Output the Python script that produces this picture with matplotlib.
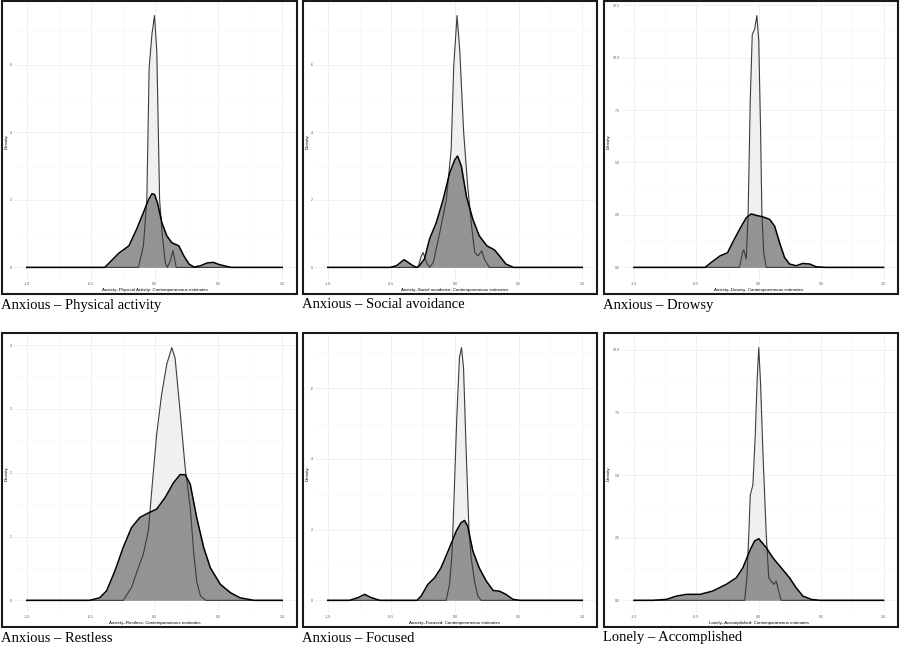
"""
density panels - six contemporaneous-estimate density plots, ggplot look.
"""
import matplotlib.pyplot as plt
from matplotlib.patches import Rectangle

# ---- data (x = estimate, y = density) ----
captions = ['Anxious \u2013 Physical activity', 'Anxious \u2013 Social avoidance',
            'Anxious \u2013 Drowsy', 'Anxious \u2013 Restless',
            'Anxious \u2013 Focused', 'Lonely \u2013 Accomplished']
xtitles = ['Anxiety\u2013Physical Activity: Contemporaneous estimates',
           'Anxiety\u2013Social avoidance: Contemporaneous estimates',
           'Anxiety\u2013Drowsy: Contemporaneous estimates',
           'Anxiety\u2013Restless: Contemporaneous estimates',
           'Anxiety\u2013Focused: Contemporaneous estimates',
           'Lonely\u2013Accomplished: Contemporaneous estimates']

# Anxious - Physical activity
phys_light_x = [-1.0, -0.126, -0.087, -0.06, -0.042, -0.02, 0.0, 0.018, 0.04, 0.06,
                0.084, 0.10, 0.125, 0.144, 0.16, 0.17, 1.0]
phys_light_y = [0, 0, 0.64, 2.0, 5.9, 6.9, 7.45, 6.4, 2.0, 1.0,
                0.15, 0, 0.2, 0.5, 0.2, 0, 0]
phys_dark_x = [-1.0, -0.39, -0.35, -0.28, -0.2, -0.14, -0.087, -0.047, -0.02, 0.0, 0.024,
               0.058, 0.097, 0.136, 0.19, 0.23, 0.27, 0.31, 0.36, 0.41, 0.46, 0.51, 0.6, 1.0]
phys_dark_y = [0, 0, 0.15, 0.42, 0.64, 1.13, 1.62, 2.0, 2.18, 2.16, 1.9,
               1.32, 0.93, 0.73, 0.64, 0.34, 0.1, 0.01, 0.05, 0.13, 0.15, 0.08, 0, 0]

# Anxious - Social avoidance
soc_light_x = [-1.0, -0.29, -0.265, -0.25, -0.225, -0.2, -0.17, -0.12, -0.068, -0.03,
               -0.01, 0.016, 0.037, 0.068, 0.1, 0.13, 0.155, 0.18, 0.21, 0.23, 0.27, 1.0]
soc_light_y = [0, 0, 0.34, 0.44, 0.15, 0, 0.15, 1.03, 2.0, 3.5,
               5.96, 7.46, 6.45, 4.0, 2.4, 1.23, 0.44, 0.34, 0.49, 0.25, 0, 0]
soc_dark_x = [-1.0, -0.51, -0.46, -0.4, -0.33, -0.3, -0.28, -0.24, -0.2, -0.147, -0.094,
              -0.042, 0.0, 0.02, 0.05, 0.09, 0.14, 0.19, 0.25, 0.31, 0.35, 0.4, 0.46, 1.0]
soc_dark_y = [0, 0, 0.05, 0.23, 0.05, 0.0, 0.05, 0.25, 0.84, 1.33, 2.0,
              2.8, 3.2, 3.3, 3.0, 2.1, 1.43, 0.94, 0.64, 0.52, 0.34, 0.1, 0, 0]

# Anxious - Drowsy
drow_light_x = [-1.0, -0.155, -0.13, -0.12, -0.1, -0.085, -0.068, -0.052, -0.033, -0.015,
                0.0, 0.015, 0.025, 0.04, 0.06, 1.0]
drow_light_y = [0, 0, 0.7, 0.84, 0.4, 2.6, 8.0, 11.1, 11.35, 12.0,
                10.8, 6.4, 2.6, 0.7, 0, 0]
drow_dark_x = [-1.0, -0.43, -0.38, -0.31, -0.25, -0.21, -0.155, -0.1, -0.06, -0.02, 0.033,
               0.087, 0.127, 0.167, 0.207, 0.247, 0.3, 0.353, 0.41, 0.46, 0.54, 1.0]
drow_dark_y = [0, 0, 0.24, 0.55, 0.7, 1.18, 1.8, 2.37, 2.55, 2.48, 2.41,
               2.29, 1.97, 1.18, 0.47, 0.16, 0.08, 0.19, 0.16, 0.03, 0, 0]

# Anxious - Restless
rest_light_x = [-1.0, -0.245, -0.18, -0.127, -0.088, -0.048, -0.022, 0.017, 0.056, 0.096,
                0.135, 0.161, 0.2, 0.24, 0.28, 0.306, 0.33, 0.36, 0.4, 1.0]
rest_light_y = [0, 0, 0.2, 0.51, 0.72, 1.09, 1.71, 2.6, 3.23, 3.7,
                3.96, 3.8, 2.97, 2.08, 1.45, 0.77, 0.3, 0.07, 0, 0]
rest_dark_x = [-1.0, -0.51, -0.43, -0.375, -0.31, -0.245, -0.18, -0.114, -0.048, 0.017,
               0.083, 0.148, 0.2, 0.24, 0.28, 0.33, 0.385, 0.437, 0.516, 0.595, 0.67,
               0.78, 1.0]
rest_dark_y = [0, 0, 0.04, 0.15, 0.46, 0.83, 1.14, 1.3, 1.37, 1.43,
               1.61, 1.84, 1.97, 1.97, 1.82, 1.3, 0.83, 0.51, 0.25, 0.12, 0.04,
               0, 0]

# Anxious - Focused
foc_light_x = [-1.0, -0.07, -0.043, -0.022, -0.004, 0.014, 0.035, 0.051, 0.067, 0.088,
               0.11, 0.127, 0.153, 0.18, 0.205, 1.0]
foc_light_y = [0, 0, 0.45, 1.4, 3.28, 5.17, 6.87, 7.15, 6.58, 4.2,
               1.96, 1.2, 0.55, 0.12, 0, 0]
foc_dark_x = [-1.0, -0.83, -0.76, -0.71, -0.66, -0.59, -0.3, -0.266, -0.214, -0.16, -0.11,
              -0.043, 0.01, 0.048, 0.075, 0.1, 0.14, 0.19, 0.245, 0.3, 0.35, 0.4,
              0.455, 0.51, 1.0]
foc_dark_y = [0, 0, 0.08, 0.17, 0.08, 0, 0, 0.12, 0.45, 0.64, 0.92,
              1.49, 1.96, 2.2, 2.26, 2.1, 1.4, 0.92, 0.55, 0.28, 0.26, 0.17,
              0.03, 0, 0]

# Lonely - Accomplished
lone_light_x = [-1.0, -0.113, -0.095, -0.08, -0.068, -0.047, -0.028, -0.012, 0.0, 0.015,
                0.033, 0.06, 0.08, 0.1, 0.12, 0.14, 0.16, 0.18, 1.0]
lone_light_y = [0, 0, 0.9, 2.6, 4.2, 4.6, 6.6, 8.9, 10.08, 8.6,
                5.96, 2.63, 0.9, 0.77, 0.64, 0.77, 0.37, 0, 0]
lone_dark_x = [-1.0, -0.85, -0.74, -0.66, -0.58, -0.47, -0.37, -0.26, -0.18, -0.127,
               -0.073, -0.033, 0.0, 0.06, 0.113, 0.18, 0.247, 0.3, 0.354, 0.42, 0.49, 1.0]
lone_dark_y = [0, 0, 0.04, 0.17, 0.24, 0.24, 0.37, 0.64, 0.9, 1.3,
               1.97, 2.37, 2.46, 2.1, 1.7, 1.3, 0.9, 0.5, 0.17, 0.04, 0, 0]

light_xs = [phys_light_x, soc_light_x, drow_light_x, rest_light_x, foc_light_x, lone_light_x]
light_ys = [phys_light_y, soc_light_y, drow_light_y, rest_light_y, foc_light_y, lone_light_y]
dark_xs = [phys_dark_x, soc_dark_x, drow_dark_x, rest_dark_x, foc_dark_x, lone_dark_x]
dark_ys = [phys_dark_y, soc_dark_y, drow_dark_y, rest_dark_y, foc_dark_y, lone_dark_y]

# y breaks per panel: (major step, label format)
y_steps = [(2, '{:.0f}'), (2, '{:.0f}'), (2.5, '{:.1f}'),
           (1, '{:.0f}'), (2, '{:.0f}'), (2.5, '{:.1f}')]

W, H = 900, 647
fig = plt.figure(figsize=(W / 100, H / 100), dpi=100)
fig.patch.set_facecolor('white')


def fbox(left, top, right, bottom):
    """ pixel box (top-left origin) -> figure fraction [l, b, w, h] """
    return [left / W, 1 - bottom / H, (right - left) / W, (bottom - top) / H]


box_cols = [(2, 297), (303, 597), (604, 898)]
box_rows = [(1, 294), (333, 627)]
tick_c = '#5a5a5a'

for i in range(6):
    r, c = divmod(i, 3)
    bl, br = box_cols[c]
    bt, bb = box_rows[r]

    # outer frame
    fig.patches.append(Rectangle((bl / W, 1 - bb / H), (br - bl) / W, (bb - bt) / H,
                                 transform=fig.transFigure, fill=False,
                                 edgecolor='#1a1a1a', linewidth=1.5, zorder=10))

    pad_left = 17.5 if c == 2 else 12
    ax = fig.add_axes(fbox(bl + pad_left, bt + 2, br - 2, bb - 14))
    for s in ax.spines.values():
        s.set_visible(False)

    lx, ly = light_xs[i], light_ys[i]
    dx, dy = dark_xs[i], dark_ys[i]
    ax.fill_between(lx, ly, 0, color='#f0f0f0', zorder=2, linewidth=0)
    ax.fill_between(dx, dy, 0, color='#8f8f8f', alpha=0.95, zorder=3, linewidth=0)
    ax.plot(lx, ly, color='#3c3c3c', lw=0.8, zorder=4, solid_joinstyle='round')
    ax.plot(dx, dy, color='black', lw=1.1, zorder=5, solid_joinstyle='round')

    ymax = max(max(ly), max(dy))
    ax.set_xlim(-1.1, 1.1)
    ax.set_ylim(-0.05 * ymax, 1.05 * ymax)

    step, fmt = y_steps[i]
    yt = [k * step for k in range(int(1.05 * ymax / step) + 1)]
    ax.set_yticks(yt)
    ax.set_yticklabels([fmt.format(v) for v in yt])
    ax.set_yticks([v + step / 2 for v in yt if v + step / 2 <= 1.05 * ymax], minor=True)
    xt = [-1.0, -0.5, 0.0, 0.5, 1.0]
    ax.set_xticks(xt)
    ax.set_xticklabels(['{:.1f}'.format(v) for v in xt])
    ax.set_xticks([-0.75, -0.25, 0.25, 0.75], minor=True)

    ax.grid(True, which='major', color='#eeeeee', lw=0.6, zorder=0)
    ax.grid(True, which='minor', color='#f6f6f6', lw=0.4, zorder=0)
    ax.set_axisbelow(True)
    ax.tick_params(which='both', length=0, labelsize=2.6, labelcolor=tick_c, pad=1.5)
    for lab in ax.get_xticklabels() + ax.get_yticklabels():
        lab.set_family('Liberation Sans')

    ax.set_xlabel(xtitles[i], fontsize=3.2, family='Liberation Sans', labelpad=1.2)
    ax.set_ylabel('Density', fontsize=3.2, family='Liberation Sans', labelpad=1.2)

    # caption under the frame
    fig.text((bl - 1) / W, 1 - (bb + 11) / H, captions[i], fontsize=10.5,
             family='Liberation Serif', ha='left', va='center')

plt.savefig('out.png', dpi=100)
